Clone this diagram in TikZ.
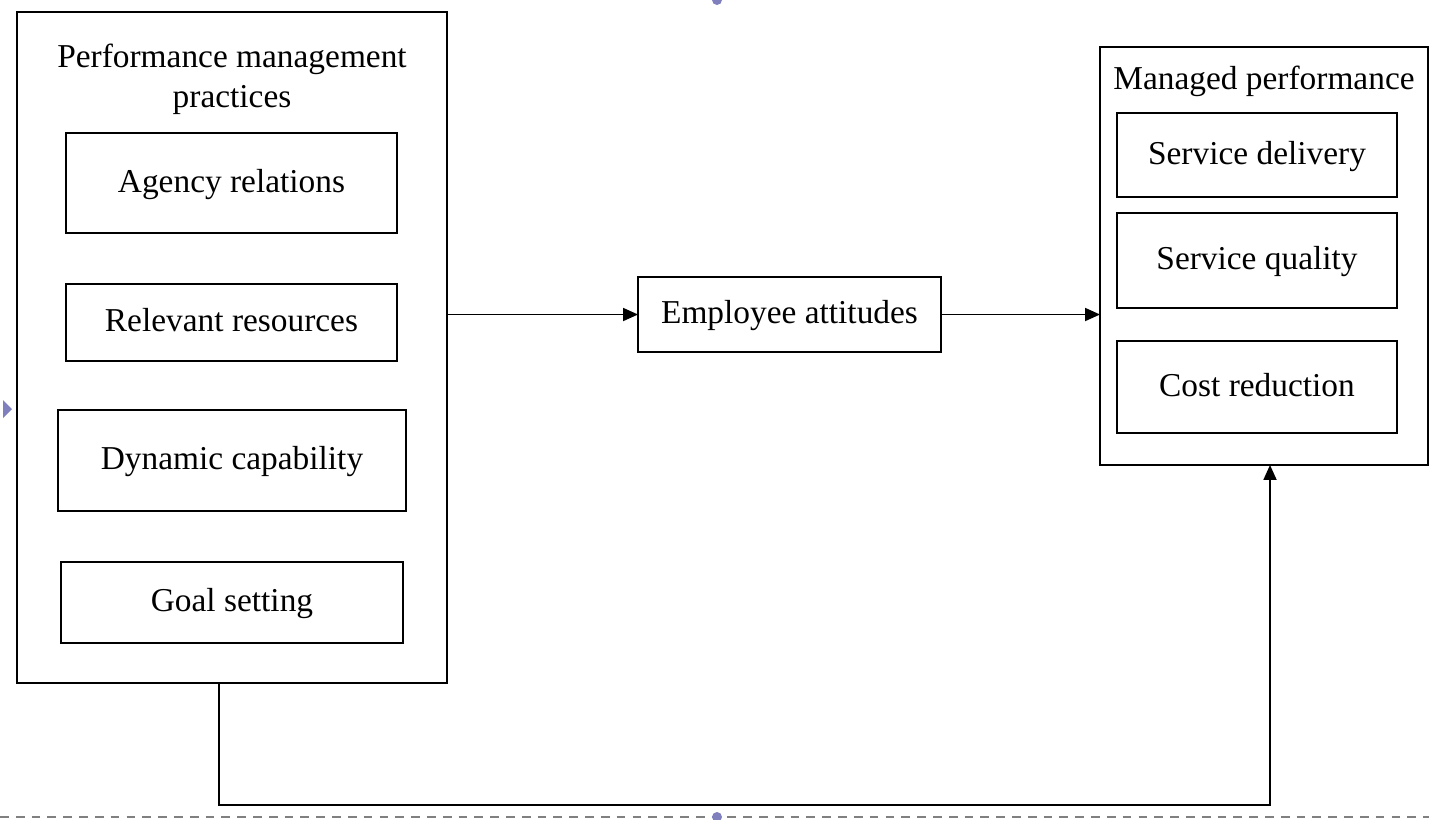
\documentclass[tikz,border=0pt]{standalone}
\usepackage{fontspec}
\setmainfont{Liberation Serif}
\usetikzlibrary{arrows.meta}
\usetikzlibrary{positioning}
\definecolor{handle}{RGB}{128,128,190}
\tikzset {
  box node/.style = {
    draw = black,
    line width = 1pt,
    rectangle,
    inner sep = 0,
    outer sep = 0
  },
  % outer frame holding a group of items
  groupbox/.style = {
    box node
  },
  % single item inside a frame
  itembox/.style = {
    box node,
    align = center,
    text depth = 0.1cm
  },
  % frame heading
  heading/.style = {
    align = center,
    inner sep = 0
  },
  arr/.style = {
    draw = black,
    line width = 1pt,
    -{Triangle[length=3mm,width=2.6mm]}
  }
}

\begin{document}
\begin{tikzpicture}[x=0.02cm, y=-0.02cm, font=\fontsize{19}{23}\selectfont]
    \useasboundingbox (0,0) rectangle (1429,819);

    % left frame
    \node[groupbox, minimum width=8.6cm, minimum height=13.42cm] (pmp) at (232,347.5) {};
    \node[heading] (pmp-title) at (232,79) {Performance management\\practices};
    \node[itembox, minimum width=6.62cm, minimum height=2.0cm] (agency) at (231.5,183) {Agency relations};
    \node[itembox, minimum width=6.62cm, minimum height=1.54cm] (resources) at (231.5,322.5) {Relevant resources};
    \node[itembox, minimum width=6.96cm, minimum height=2.02cm] (dynamic) at (232,460.5) {Dynamic capability};
    \node[itembox, minimum width=6.84cm, minimum height=1.62cm] (goals) at (232,602.5) {Goal setting};

    % middle
    \node[itembox, minimum width=6.06cm, minimum height=1.5cm] (attitudes) at (789.5,314.5) {Employee attitudes};

    % right frame
    \node[groupbox, minimum width=6.56cm, minimum height=8.36cm] (mp) at (1264,256) {};
    \node[heading] (mp-title) at (1264,81) {Managed performance};
    \node[itembox, minimum width=5.6cm, minimum height=1.68cm] (delivery) at (1257,155) {Service delivery};
    \node[itembox, minimum width=5.6cm, minimum height=1.9cm] (quality) at (1257,260.5) {Service quality};
    \node[itembox, minimum width=5.6cm, minimum height=1.84cm] (cost) at (1257,387) {Cost reduction};

    \coordinate (fb-left) at (219,805);
    \coordinate (fb-right) at (1270,805);

    % main path
    \draw[arr] (pmp.east |- attitudes) -- (attitudes);
    \draw[arr] (attitudes) -- (mp.west |- attitudes);

    % feedback path
    \draw[arr] (pmp.south -| fb-left)
      |- (fb-right)
      -- (mp.south -| fb-right);

    % selection marks
    \draw[gray, line width=0.8pt, dash pattern=on 5pt off 4pt] (0,817) -- (1429,817);
    \fill[handle] (3,400) -- (12,409) -- (3,418) -- cycle;
    \fill[handle] (717,0) circle (5);
    \fill[handle] (717,817) circle (5);
  \end{tikzpicture}
\end{document}
